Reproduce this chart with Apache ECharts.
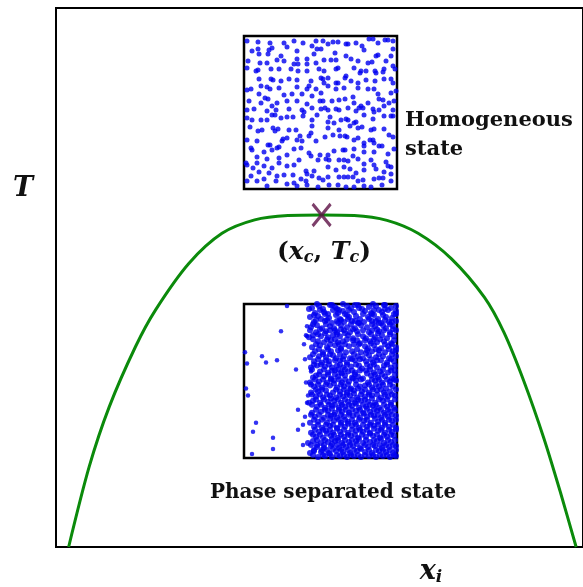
<!DOCTYPE html>
<html>
<head>
<meta charset="utf-8">
<script src="https://cdn.jsdelivr.net/npm/echarts@6/dist/echarts.min.js"></script>
<style>
  html, body { margin: 0; padding: 0; background: #fff; }
  #chart { width: 583px; height: 587px; }
</style>
</head>
<body>
<div id="chart"></div>
<script>
// Coexistence curve T(x_i): composition on x (0..1), temperature on y (0..1)
const curveX = [0.024, 0.063, 0.101, 0.151, 0.189, 0.252, 0.315, 0.377, 0.440, 0.504,
                0.566, 0.628, 0.687, 0.750, 0.813, 0.850, 0.888, 0.926, 0.957, 0.987];
const curveT = [0.000, 0.149, 0.260, 0.372, 0.440, 0.526, 0.582, 0.607, 0.615, 0.616,
                0.615, 0.606, 0.582, 0.535, 0.463, 0.398, 0.307, 0.201, 0.102, 0.000];

// Critical point (x_c, T_c)
const critical = [0.504, 0.616];

// Particle snapshot above T_c (box coordinates, 0..153, y measured downward)
const homogeneousDots = [
  [3,5],[14,6],[26,7],[40,7],[50,5],[59,7],[72,5],
  [8,15],[14,13],[25,14],[28,12],[43,11],[53,15],[68,10],[73,13],
  [15,18],[24,18],[37,20],[40,25],[53,23],[63,23],[70,18],[77,13],
  [4,25],[16,27],[23,27],[33,24],[50,28],[54,28],[63,28],[72,27],
  [3,32],[12,35],[14,34],[27,33],[35,33],[47,33],[54,35],[63,35],[75,33],
  [15,43],[27,43],[29,44],[37,45],[45,43],[53,44],[67,45],[77,42],
  [7,53],[17,50],[23,51],[26,53],[35,52],[53,51],[63,53],[65,50],[72,53],
  [3,54],[15,58],[21,62],[24,63],[40,59],[48,58],[58,58],[68,60],[77,57],
  [5,65],[17,67],[28,70],[33,67],[43,65],[53,65],[63,68],[76,65],
  [3,74],[10,73],[23,75],[32,74],[45,73],[58,74],[60,76],[68,72],[77,73],
  [79,5],[84,8],[89,6],[94,6],[102,8],[104,8],[112,7],[118,10],[120,14],[125,3],[129,3],[134,7],[141,4],[144,4],[149,5],[149,13],
  [91,17],[102,20],[107,23],[110,32],[114,25],[124,27],[128,26],[132,20],[134,19],[142,25],[147,20],[149,30],
  [80,24],[87,24],[92,24],[92,33],[94,32],[80,35],[117,35],[116,37],[122,35],[131,35],[132,37],[139,36],[140,33],[151,33],
  [79,43],[84,42],[80,47],[92,47],[94,47],[102,40],[101,42],[107,45],[114,47],[122,44],[131,45],[140,43],[147,43],[149,47],
  [84,50],[92,53],[100,52],[114,52],[124,53],[130,53],[134,58],[135,63],[139,64],[147,57],[152,55],
  [79,65],[88,65],[95,64],[101,63],[109,61],[110,67],[117,70],[119,72],[124,67],[129,73],[140,70],[145,67],[150,65],
  [81,72],[84,74],[92,73],[95,74],[104,72],[112,75],[115,72],[130,76],[135,74],[149,74],
  [3,82],[8,84],[17,84],[23,84],[28,79],[31,79],[37,82],[43,81],[49,81],[59,80],[68,84],[73,79],
  [6,91],[14,95],[18,94],[29,92],[31,95],[34,93],[45,94],[52,94],[56,100],[65,100],[68,90],[67,97],
  [3,104],[13,105],[24,109],[26,109],[33,112],[39,103],[43,102],[38,105],[53,104],[58,105],[72,105],
  [7,112],[8,114],[20,116],[28,114],[35,111],[50,113],[57,112],[76,119],
  [13,121],[13,127],[23,123],[35,122],[43,119],[55,124],[65,117],[67,120],[74,124],
  [2,127],[3,129],[9,132],[20,130],[28,132],[35,127],[43,130],[50,129],[62,135],[63,138],[70,135],
  [7,140],[15,136],[20,143],[25,137],[33,140],[40,139],[49,139],[57,143],[68,140],[75,142],
  [3,145],[13,145],[23,150],[32,145],[43,148],[50,147],[53,150],[62,145],[63,149],[74,151],
  [86,81],[97,84],[102,83],[104,84],[110,87],[112,86],[120,79],[129,83],[140,80],[147,80],[149,80],
  [84,86],[84,92],[90,87],[95,94],[106,90],[114,92],[118,91],[127,94],[130,93],[140,93],[145,99],[149,101],
  [81,101],[89,99],[96,100],[101,100],[103,101],[110,104],[114,102],[120,107],[120,110],[126,104],[129,104],[135,110],[138,110],[130,107],
  [84,119],[90,115],[99,114],[101,114],[110,113],[120,116],[130,116],[144,118],[150,113],
  [82,123],[85,124],[95,124],[100,124],[104,125],[109,120],[114,123],[120,128],[127,124],[130,129],[142,126],[144,130],[147,131],
  [84,131],[92,134],[100,131],[106,133],[112,137],[120,134],[132,133],[140,136],[147,138],
  [79,144],[84,141],[95,141],[100,141],[104,141],[109,141],[114,145],[119,144],[130,143],[135,142],[139,142],[138,149],[147,145],
  [85,149],[94,149],[102,151],[110,151],[120,150],[127,151]
];

// Particle snapshot below T_c: dilute phase on the left
const dilutePhaseDots = [
  [43,2],[37,27],[62,31],[63,32],[18,52],[22,58],[33,56],[61,55],[52,65],[67,67],
  [3,59],[1,48],[2,84],[4,91],[64,91],[54,105],[12,118],[9,127],[59,120],[54,125],
  [29,133],[29,144],[8,149],[60,40],[62,78],[61,112],[63,22],[59,140],[63,98]
];

// ... and the dense phase on the right
const densePhaseDots = [
  [68,4],[75,2],[79,5],[86,1],[91,3],[95,6],[103,2],[107,4],[114,1],[118,5],[125,3],[132,2],[135,6],[141,1],[147,4],[152,2],
  [71,9],[80,8],[84,10],[89,6],[99,7],[101,10],[110,8],[121,7],[127,9],[138,8],[144,6],[150,10],
  [66,13],[74,12],[77,15],[85,14],[92,11],[96,15],[105,13],[112,12],[116,15],[124,13],[130,11],[134,15],[142,13],[148,14],
  [70,18],[81,17],[88,19],[93,17],[100,18],[108,17],[115,19],[120,18],[128,17],[137,19],[145,18],[152,17],
  [67,23],[73,21],[78,24],[86,22],[90,24],[97,21],[103,23],[111,24],[117,21],[123,23],[131,22],[139,21],[142,24],[149,22],
  [72,28],[82,27],[93,28],[100,26],[106,28],[113,27],[125,28],[128,26],[135,27],[146,28],[152,26],
  [65,33],[69,31],[77,32],[84,33],[89,31],[96,32],[104,31],[109,34],[119,32],[122,34],[131,33],[138,31],[143,34],[150,32],
  [74,37],[80,38],[87,36],[94,38],[99,37],[113,36],[116,39],[126,37],[133,38],[140,37],[147,39],
  [68,43],[76,41],[83,43],[91,41],[97,44],[105,42],[110,40],[121,42],[124,44],[130,41],[137,44],[144,42],[152,43],
  [71,47],[79,48],[87,47],[94,46],[102,48],[108,47],[117,48],[128,47],[135,46],[141,48],[149,47],
  [66,53],[75,52],[82,53],[89,51],[92,54],[100,52],[106,54],[114,52],[119,54],[125,51],[132,53],[139,52],[145,54],[152,52],
  [70,57],[78,58],[85,57],[96,56],[103,58],[111,56],[122,57],[129,58],[137,56],[143,58],[150,57],
  [67,63],[73,61],[81,62],[88,63],[93,61],[99,63],[107,62],[115,61],[118,64],[126,62],[133,63],[140,61],[147,63],
  [76,67],[84,68],[91,66],[97,68],[104,67],[111,68],[122,66],[130,68],[136,67],[144,68],[151,66],
  [69,73],[72,71],[80,72],[87,74],[94,72],[101,71],[108,73],[114,72],[119,74],[127,71],[134,73],[141,72],[148,74],
  [66,78],[75,77],[83,78],[90,76],[98,78],[105,77],[112,76],[124,78],[131,76],[138,78],[146,77],[152,76],
  [70,82],[78,83],[86,81],[93,83],[100,82],[107,84],[116,82],[121,81],[128,83],[135,82],[142,84],[149,82],
  [67,88],[74,87],[82,86],[89,88],[96,87],[103,88],[110,86],[118,87],[125,88],[133,86],[140,88],[146,87],
  [72,92],[79,93],[86,91],[92,93],[99,92],[106,91],[113,93],[121,92],[128,91],[137,93],[144,92],[151,91],
  [65,98],[69,96],[76,98],[84,97],[90,96],[97,98],[104,97],[111,98],[117,96],[124,97],[131,98],[139,96],[147,98],
  [73,102],[81,103],[88,101],[95,103],[101,102],[108,101],[115,103],[122,102],[129,101],[135,103],[143,102],[150,103],
  [68,108],[77,107],[84,106],[91,108],[98,107],[105,108],[112,106],[119,108],[126,107],[133,106],[140,108],[146,107],
  [71,112],[80,113],[87,111],[93,113],[100,112],[109,111],[116,113],[123,112],[130,111],[137,113],[144,112],[152,111],
  [66,118],[74,117],[83,118],[90,116],[97,118],[104,117],[111,118],[120,116],[127,118],[134,117],[141,118],[148,116],
  [70,122],[78,123],[86,121],[93,123],[101,122],[108,121],[115,123],[123,122],[130,121],[138,123],[145,122],[152,123],
  [67,128],[75,127],[82,126],[89,128],[96,127],[104,128],[112,126],[119,127],[126,128],[134,126],[141,128],[148,127],
  [72,132],[79,133],[87,131],[94,133],[100,132],[107,131],[114,133],[122,132],[129,131],[136,133],[143,132],[150,131],
  [64,138],[69,136],[77,138],[84,137],[91,136],[98,138],[105,137],[112,136],[119,138],[126,137],[133,136],[140,138],[147,137],
  [73,142],[80,143],[87,141],[95,143],[102,142],[109,141],[116,143],[124,142],[131,141],[138,143],[145,142],[152,141],
  [66,148],[70,146],[77,147],[85,148],[92,146],[99,147],[106,148],[113,146],[121,147],[128,148],[135,146],[142,147],[149,148],
  [74,152],[81,151],[88,152],[96,151],[103,152],[110,151],[117,152],[125,151],[132,152],[139,151],[146,152],[152,151],
  [73,0],[88,1],[99,0],[111,1],[129,0],[140,1],
  [65,5],[76,6],[93,5],[105,6],[115,4],[130,6],[141,5],[152,7],
  [70,11],[81,10],[94,9],[103,11],[119,10],[128,10],[139,11],[152,10],
  [72,16],[83,16],[97,16],[104,15],[111,17],[125,15],[132,17],[141,16],[148,18],
  [69,20],[82,20],[94,19],[107,20],[114,19],[128,20],[135,19],[146,20],
  [66,26],[76,25],[86,26],[91,26],[97,25],[109,25],[119,26],[133,25],[140,26],[149,25],
  [74,30],[81,29],[93,30],[101,29],[114,30],[127,30],[134,29],[146,30],
  [69,35],[83,35],[91,35],[103,35],[109,36],[121,36],[130,35],[136,35],[150,36],
  [72,40],[86,40],[95,40],[101,40],[115,40],[127,39],[141,40],[148,40],
  [75,45],[84,45],[97,45],[113,45],[123,46],[132,45],[145,45],[152,46],
  [69,50],[79,50],[86,50],[96,50],[110,50],[122,49],[135,50],[148,50],
  [74,55],[82,56],[91,56],[99,55],[108,55],[116,55],[127,55],[133,56],[147,55],
  [70,60],[77,60],[85,60],[96,60],[103,60],[112,60],[123,60],[130,60],[143,60],[151,61],
  [68,65],[80,65],[88,66],[94,65],[101,65],[108,66],[116,66],[126,65],[139,65],[147,66],
  [75,70],[84,70],[91,70],[98,69],[111,70],[123,69],[131,70],[138,70],[151,70],
  [71,75],[79,75],[87,75],[95,75],[101,75],[109,74],[117,75],[128,75],[135,75],[143,75],[150,75],
  [67,80],[74,80],[82,80],[90,79],[97,80],[104,80],[112,80],[125,80],[132,80],[139,80],[146,80],
  [72,85],[78,85],[92,85],[100,85],[106,85],[114,84],[121,85],[129,85],[137,85],[152,85],
  [68,90],[76,90],[83,90],[96,90],[103,90],[110,89],[117,90],[125,90],[133,90],[141,90],[148,90],
  [72,95],[80,95],[87,94],[94,95],[101,95],[108,95],[114,95],[121,95],[128,94],[135,95],[143,95],[151,95],
  [68,100],[77,100],[85,100],[91,100],[98,100],[105,100],[112,99],[119,100],[126,100],[132,100],[140,100],[147,100],
  [72,105],[81,105],[88,104],[95,105],[102,105],[108,105],[116,105],[123,104],[130,105],[137,105],[144,105],[151,105],
  [67,110],[75,110],[84,110],[90,110],[97,110],[105,110],[113,110],[120,109],[127,110],[134,110],[141,110],[148,110],
  [70,115],[78,115],[86,114],[95,115],[101,115],[108,115],[115,115],[123,115],[131,114],[138,115],[145,115],[152,115],
  [74,120],[82,120],[89,120],[97,120],[104,119],[112,120],[119,120],[126,120],[134,120],[141,120],[149,120],
  [71,125],[79,125],[86,125],[93,124],[100,125],[108,125],[116,125],[123,125],[130,124],[137,125],[145,125],[152,125],
  [69,130],[76,130],[83,129],[90,130],[97,130],[104,130],[111,130],[118,130],[126,129],[133,130],[140,130],[147,130],
  [73,135],[81,135],[88,134],[94,135],[101,135],[108,135],[115,134],[122,135],[130,135],[137,134],[144,135],[151,135],
  [67,140],[73,140],[80,140],[88,139],[93,140],[99,140],[106,140],[113,139],[121,140],[129,140],[136,140],[142,140],[149,140],
  [70,145],[78,145],[83,145],[89,144],[97,145],[104,145],[110,145],[117,144],[125,145],[132,145],[139,145],[146,145],[152,145],
  [69,150],[79,150],[86,149],[93,150],[100,150],[107,150],[114,150],[121,150],[129,150],[136,150],[143,150],[150,150]
];

const dotColor = '#0000f0';
const serif = '"DejaVu Serif", "Liberation Serif", serif';
const math = '"DejaVu Serif", "Liberation Serif", serif';

const chart = echarts.init(document.getElementById('chart'), null, { renderer: 'canvas' });

const boxAxis = (grid, inverse) => ({
  type: 'value', gridIndex: grid, min: 0, max: 153, inverse: !!inverse, show: false
});

chart.setOption({
  animation: false,
  backgroundColor: '#ffffff',
  grid: [
    { left: 56, top: 8, width: 530, height: 539, show: true, borderColor: '#000', borderWidth: 2, backgroundColor: 'transparent' },
    { left: 244, top: 36, width: 153, height: 153, show: true, borderColor: '#000', borderWidth: 2.5, backgroundColor: '#fff', z: 5 },
    { left: 244, top: 304, width: 153, height: 154, show: true, borderColor: '#000', borderWidth: 2.5, backgroundColor: '#fff', z: 5 }
  ],
  xAxis: [
    { type: 'value', gridIndex: 0, min: 0, max: 1, show: false },
    boxAxis(1), boxAxis(2)
  ],
  yAxis: [
    { type: 'value', gridIndex: 0, min: 0, max: 1, show: false },
    boxAxis(1, true), boxAxis(2, true)
  ],
  series: [
    {
      type: 'line', xAxisIndex: 0, yAxisIndex: 0,
      data: curveX.map((x, i) => [x, curveT[i]]),
      smooth: 0.3, showSymbol: false, clip: true,
      lineStyle: { color: '#0b8a0b', width: 3 }, z: 2
    },
    {
      type: 'scatter', xAxisIndex: 0, yAxisIndex: 0,
      data: [critical],
      symbol: 'path://M0,0L16,22M16,0L0,22', symbolSize: [18, 22],
      itemStyle: { color: 'rgba(0,0,0,0)', borderColor: '#5c0f45', borderWidth: 3.2 }, z: 4
    },
    {
      type: 'scatter', xAxisIndex: 1, yAxisIndex: 1, data: homogeneousDots,
      symbolSize: 5, itemStyle: { color: dotColor }, clip: true, z: 6
    },
    {
      type: 'scatter', xAxisIndex: 2, yAxisIndex: 2, data: dilutePhaseDots,
      symbolSize: 4.5, itemStyle: { color: dotColor }, clip: true, z: 6
    },
    {
      type: 'scatter', xAxisIndex: 2, yAxisIndex: 2, data: densePhaseDots,
      symbolSize: 6, itemStyle: { color: dotColor }, clip: true, z: 6
    }
  ],
  graphic: [
    { type: 'text', z: 10, style: { text: 'Homogeneous', x: 405, y: 121, font: 'bold 21px ' + serif, fill: '#111', textVerticalAlign: 'middle' } },
    { type: 'text', z: 10, style: { text: 'state', x: 405, y: 150, font: 'bold 21px ' + serif, fill: '#111', textVerticalAlign: 'middle' } },
    { type: 'text', z: 10, style: { text: 'Phase separated state', x: 333, y: 493, textAlign: 'center', font: 'bold 20px ' + serif, fill: '#111', textVerticalAlign: 'middle' } },
    {
      type: 'text', z: 10,
      style: {
        text: '{p|(}{v|x}{s|c}{p|, }{v|T}{s|c}{p|)}', x: 324, y: 252, textAlign: 'center', textVerticalAlign: 'middle',
        rich: {
          p: { font: 'bold 25px ' + math, fill: '#111', lineHeight: 28 },
          v: { font: 'italic bold 25px ' + math, fill: '#111', lineHeight: 28 },
          s: { font: 'italic bold 16px ' + math, fill: '#111', lineHeight: 12, verticalAlign: 'bottom' }
        }
      }
    },
    { type: 'text', z: 10, style: { text: 'T', x: 23, y: 189, textAlign: 'center', textVerticalAlign: 'middle', font: 'italic bold 27px ' + math, fill: '#111' } },
    {
      type: 'text', z: 10,
      style: {
        text: '{v|x}{s|i}', x: 431, y: 572, textAlign: 'center', textVerticalAlign: 'middle',
        rich: {
          v: { font: 'italic bold 27px ' + math, fill: '#111', lineHeight: 28 },
          s: { font: 'italic bold 17px ' + math, fill: '#111', lineHeight: 12, verticalAlign: 'bottom' }
        }
      }
    }
  ]
});
</script>
</body>
</html>
